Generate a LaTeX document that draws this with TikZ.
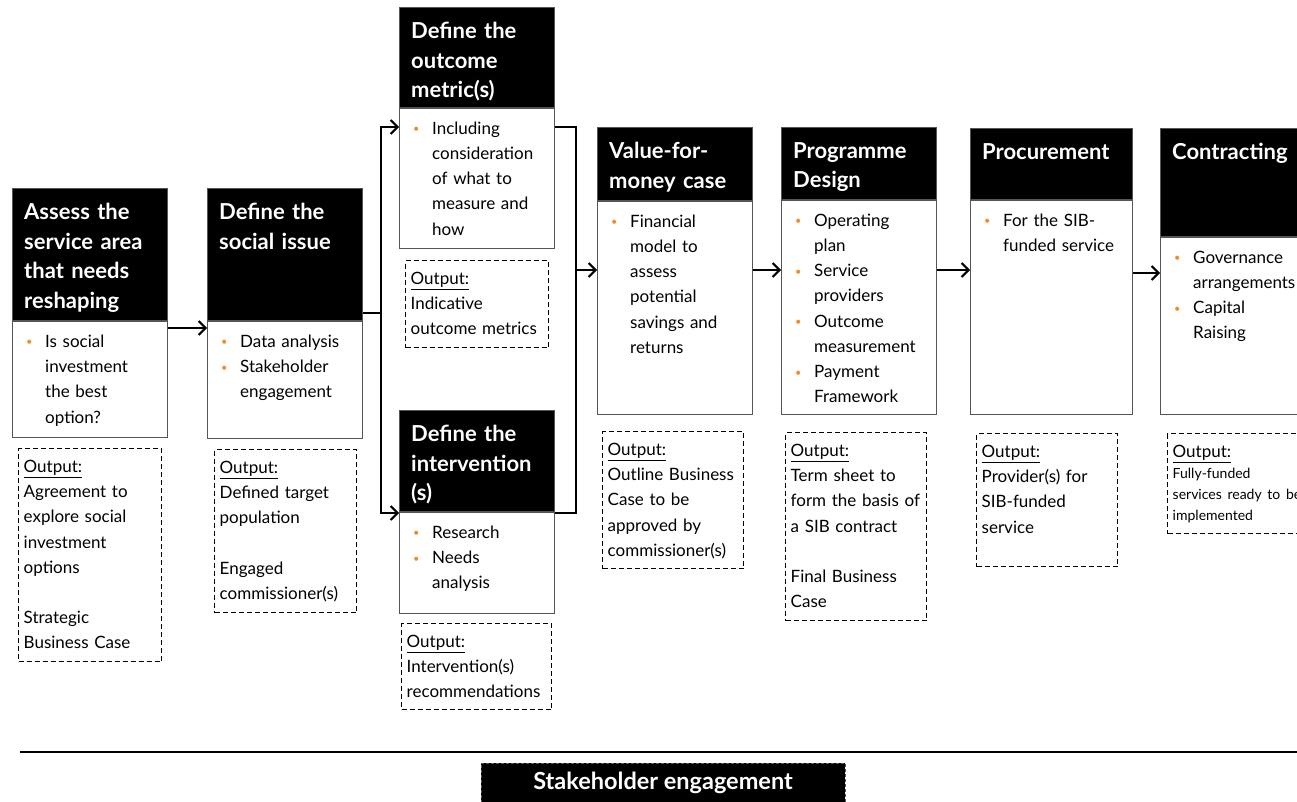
\documentclass[tikz,border=0pt]{standalone}
\usepackage{fontspec}
\setmainfont{Lato}
\usetikzlibrary{arrows.meta}
\definecolor{borange}{HTML}{F28C28}
\definecolor{bgray}{HTML}{555555}
\setlength{\parindent}{0pt}
\newcommand\brk{\unskip\hfil\break}
\newcommand\bul[1]{\par\hangindent=19pt\hangafter=1\noindent\makebox[19pt][l]{\raisebox{1.5pt}{\textcolor{borange}{\fontsize{11}{11}\selectfont\textbullet}}}#1\par}
\begin{document}
\begin{tikzpicture}[x=1pt,y=-1pt,
  hdr/.style={draw=bgray, fill=black, line width=1pt, anchor=north west, inner sep=0pt},
  body/.style={draw=bgray, fill=white, line width=1pt, anchor=north west, inner sep=0pt},
  obox/.style={draw=black, line width=1.2pt, dash pattern=on 5pt off 3pt, anchor=north west, inner sep=0pt},
  htxt/.style={anchor=north west, text width=250pt, inner xsep=12pt, inner ysep=15pt, text=white, font=\bfseries\fontsize{22}{29.6}\selectfont},
  btxt/.style={anchor=north west, text width=250pt, inner xsep=14pt, inner ysep=1pt, font=\fontsize{17}{25.2}\selectfont},
  otxt/.style={anchor=north west, text width=250pt, inner xsep=5.5pt, inner ysep=12pt, font=\fontsize{17}{25.2}\selectfont},
  conn/.style={line width=2pt},
  arr/.style={line width=2pt, -{Straight Barb[length=7pt,width=14pt]}},
  sbox/.style={fill=black, draw=bgray, dash pattern=on 3pt off 2pt, line width=1pt, text=white, font=\bfseries\fontsize{23.5}{28}\selectfont, minimum width=364, minimum height=40, inner sep=0pt}
]
\useasboundingbox (0,0) rectangle (1297,802);
\clip (0,0) rectangle (1297,802);

% stage 1
\node[hdr, minimum width=155, minimum height=132] (h1) at (12,188) {};
\node[body, minimum width=155, minimum height=116] (b1) at (h1.south west) {};
\node[htxt] (h1t) at (h1.north west) {Assess the\brk service area\brk that needs\brk reshaping};
\node[btxt] (b1t) at (b1.north west) {\bul{Is social\brk investment\brk the best\brk option?}};
\node[obox, minimum width=143, minimum height=213] (o1) at (18,448) {};
\node[otxt] (o1t) at (o1.north west) {\underline{Output:}\brk Agreement to\brk explore social\brk investment\brk options\brk\mbox{}\brk Strategic\brk Business Case};

% stage 2
\node[hdr, minimum width=155, minimum height=132] (h2) at (207,188) {};
\node[body, minimum width=155, minimum height=117] (b2) at (h2.south west) {};
\node[htxt] (h2t) at (h2.north west) {Define the\brk social issue};
\node[btxt] (b2t) at (b2.north west) {\bul{Data analysis}\bul{Stakeholder\brk engagement}};
\node[obox, minimum width=142, minimum height=163] (o2) at (214,449) {};
\node[otxt] (o2t) at (o2.north west) {\underline{Output:}\brk Defined target\brk population\brk\mbox{}\brk Engaged\brk commissioner(s)};

% stage 3
\node[hdr, minimum width=155, minimum height=100] (h3) at (399,7) {};
\node[body, minimum width=155, minimum height=140] (b3) at (h3.south west) {};
\node[htxt] (h3t) at (h3.north west) {Define the\brk outcome\brk metric(s)};
\node[btxt] (b3t) at (b3.north west) {\bul{Including\brk consideration\brk of what to\brk measure and\brk how}};
\node[obox, minimum width=143, minimum height=87] (o3) at (405,260) {};
\node[otxt] (o3t) at (o3.north west) {\underline{Output:}\brk Indicative\brk outcome metrics};

% stage 4
\node[hdr, minimum width=155, minimum height=101] (h4) at (399,410) {};
\node[body, minimum width=155, minimum height=101] (b4) at (h4.south west) {};
\node[htxt] (h4t) at (h4.north west) {Define the\brk intervention\brk (s)};
\node[btxt] (b4t) at (b4.north west) {\bul{Research}\bul{Needs\brk analysis}};
\node[obox, minimum width=150, minimum height=86] (o4) at (401,623) {};
\node[otxt] (o4t) at (o4.north west) {\underline{Output:}\brk Intervention(s)\brk recommendations};

% stage 5
\node[hdr, minimum width=155, minimum height=73] (h5) at (597,127) {};
\node[body, minimum width=155, minimum height=213] (b5) at (h5.south west) {};
\node[htxt] (h5t) at (h5.north west) {Value-for-\brk money case};
\node[btxt] (b5t) at (b5.north west) {\bul{Financial\brk model to\brk assess\brk potential\brk savings and\brk returns}};
\node[obox, minimum width=141, minimum height=137] (o5) at (602,431) {};
\node[otxt] (o5t) at (o5.north west) {\underline{Output:}\brk Outline Business\brk Case to be\brk approved by\brk commissioner(s)};

% stage 6
\node[hdr, minimum width=155, minimum height=72] (h6) at (781,127) {};
\node[body, minimum width=155, minimum height=214] (b6) at (h6.south west) {};
\node[htxt] (h6t) at (h6.north west) {Programme\brk Design};
\node[btxt] (b6t) at (b6.north west) {\bul{Operating\brk plan}\bul{Service\brk providers}\bul{Outcome\brk measurement}\bul{Payment\brk Framework}};
\node[obox, minimum width=141, minimum height=188] (o6) at (785,432) {};
\node[otxt] (o6t) at (o6.north west) {\underline{Output:}\brk Term sheet to\brk form the basis of\brk a SIB contract\brk\mbox{}\brk Final Business\brk Case};

% stage 7
\node[hdr, minimum width=162, minimum height=71] (h7) at (970,128) {};
\node[body, minimum width=162, minimum height=214] (b7) at (h7.south west) {};
\node[htxt] (h7t) at (h7.north west) {Procurement};
\node[btxt] (b7t) at (b7.north west) {\bul{For the SIB-\brk funded service}};
\node[obox, minimum width=141, minimum height=133] (o7) at (976,433) {};
\node[otxt] (o7t) at (o7.north west) {\underline{Output:}\brk Provider(s) for\brk SIB-funded\brk service};

% stage 8
\node[hdr, minimum width=162, minimum height=108] (h8) at (1160,128) {};
\node[body, minimum width=162, minimum height=177] (b8) at (h8.south west) {};
\node[htxt] (h8t) at (h8.north west) {Contracting};
\node[btxt] (b8t) at (b8.north west) {\bul{Governance\brk arrangements}\bul{Capital\brk Raising}};
\node[obox, minimum width=150, minimum height=100] (o8) at (1167,433) {};
\node[otxt] (o8t) at (o8.north west) {\underline{Output:}\brk{\fontsize{14}{21}\selectfont Fully-funded\brk services ready to be\brk implemented\par}};

% connectors
\coordinate (j1) at (381,313);
\coordinate (j2t) at (576,127);
\coordinate (j2b) at (576,513);
\coordinate (j2m) at (576,270);
\draw[arr] (b1.east |- 0,328) -- (b2.west |- 0,328);
\draw[conn] (h2.east |- j1) -- (j1);
\draw[arr] (j1) |- (b3.west |- j2t);
\draw[arr] (j1) |- (b4.west |- j2b);
\draw[conn] (b3.east |- j2t) -- (j2t) -- (j2b) -- (b4.east |- j2b);
\draw[arr] (j2m) -- (b5.west |- j2m);
\draw[arr] (b5.east |- 0,270) -- (b6.west |- 0,270);
\draw[arr] (b6.east |- 0,270) -- (b7.west |- 0,270);
\draw[arr] (b7.east |- 0,273) -- (b8.west |- 0,273);

% stakeholder engagement
\coordinate (l1) at (20,752);
\coordinate (l2) at (1297,752);
\draw[line width=2pt] (l1) -- (l2);
\node[sbox] (se) at (663,783) {Stakeholder engagement};
\end{tikzpicture}
\end{document}
